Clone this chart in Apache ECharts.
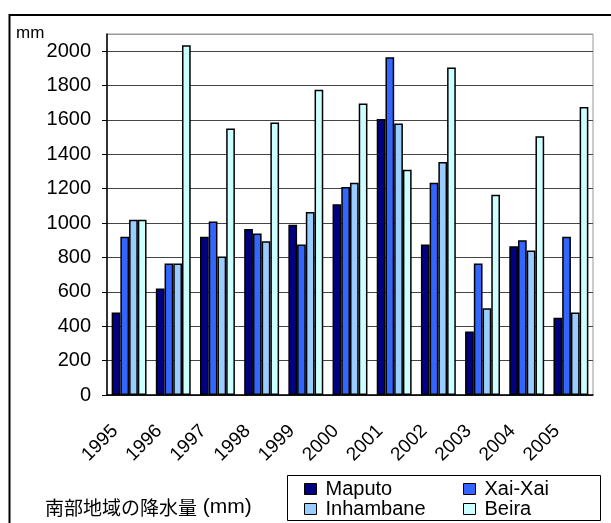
<!DOCTYPE html>
<html>
<head>
<meta charset="utf-8">
<script src="https://cdn.jsdelivr.net/npm/echarts@6/dist/echarts.min.js"></script>
<style>html,body{margin:0;padding:0;background:#fff;}#c{width:611px;height:523px;}</style>
</head>
<body>
<div id="c"></div>
<script>
var years = ['1995','1996','1997','1998','1999','2000','2001','2002','2003','2004','2005'];
var maputo = [480, 620, 920, 965, 990, 1110, 1605, 875, 370, 865, 450];
var xaiXai = [920, 765, 1010, 940, 875, 1210, 1965, 1235, 765, 900, 920];
var inhambane = [1020, 765, 805, 895, 1065, 1235, 1580, 1355, 505, 840, 480];
var beira = [1020, 2035, 1550, 1585, 1775, 1695, 1310, 1905, 1165, 1505, 1675];
var seriesNames = ['Maputo', 'Xai-Xai', 'Inhambane', 'Beira'];
var seriesColors = ['#000080', '#3366FF', '#99CCFF', '#CCFFFF'];
var seriesData = [maputo, xaiXai, inhambane, beira];
var yMax = 2100, yStep = 200;

var chart = echarts.init(document.getElementById('c'), null, {renderer: 'canvas'});
var splitColors = [];
for (var v = 0; v <= 2000; v += yStep) splitColors.push('#444');
splitColors.push('#999');

var font = 'Arial, "Liberation Sans", sans-serif';
var legendCommon = {
  orient: 'vertical',
  icon: 'rect',
  itemWidth: 12,
  itemHeight: 11,
  itemGap: 0,
  padding: 0,
  height: 40,
  textStyle: {fontSize: 20, lineHeight: 19, color: '#000', fontFamily: font, padding: [0,0,0,4]},
  itemStyle: {borderColor: '#000', borderWidth: 1},
  top: 479,
  selectedMode: false
};

chart.setOption({
  animation: false,
  grid: {left: 107, top: 34, right: 18, bottom: 128, show: true, borderColor: '#999', borderWidth: 1, containLabel: false},
  legend: [
    Object.assign({}, legendCommon, {left: 304, data: ['Maputo', 'Inhambane']}),
    Object.assign({}, legendCommon, {left: 463, data: ['Xai-Xai', 'Beira']})
  ],
  xAxis: {
    type: 'category',
    data: years,
    axisLine: {lineStyle: {color: '#000', width: 1.5}},
    axisTick: {inside: true, length: 5, lineStyle: {color: '#000'}},
    axisLabel: {rotate: 45, fontSize: 19, color: '#000', fontFamily: font, margin: 19, padding: [0, 20, 0, 0]}
  },
  yAxis: {
    type: 'value',
    min: 0, max: yMax, interval: yStep,
    axisLine: {show: true, lineStyle: {color: '#000', width: 1.5}},
    axisTick: {show: true, length: 5, lineStyle: {color: '#000'}},
    axisLabel: {fontSize: 20, color: '#000', fontFamily: font, margin: 16, showMaxLabel: false,
      formatter: function (v) { return v > 2000 ? '' : String(v); }},
    splitLine: {lineStyle: {color: splitColors, width: 1}}
  },
  series: seriesNames.map(function (n, i) {
    return {
      name: n, type: 'bar', data: seriesData[i],
      barGap: '0%', barCategoryGap: '21%',
      itemStyle: {color: seriesColors[i], borderColor: '#000', borderWidth: 1.5}
    };
  }),
  graphic: [
    {type: 'rect', shape: {x: 9.5, y: 15, width: 700, height: 600}, style: {fill: 'none', stroke: '#000', lineWidth: 2}, silent: true},
    {type: 'rect', shape: {x: 287.5, y: 475.5, width: 313, height: 45}, style: {fill: 'none', stroke: '#000', lineWidth: 1}, silent: true},
    {type: 'text', left: 16, top: 25, style: {text: 'mm', fontSize: 17, fill: '#000', fontFamily: font}},
    {type: 'text', left: 45, top: 497, style: {
      text: '{a|南部地域の降水量}{b| (mm)}',
      rich: {
        a: {fontSize: 19, fontFamily: '"Noto Sans CJK JP"', fill: '#000'},
        b: {fontSize: 21, fontFamily: font, fill: '#000'}
      }
    }}
  ]
});
</script>
</body>
</html>
